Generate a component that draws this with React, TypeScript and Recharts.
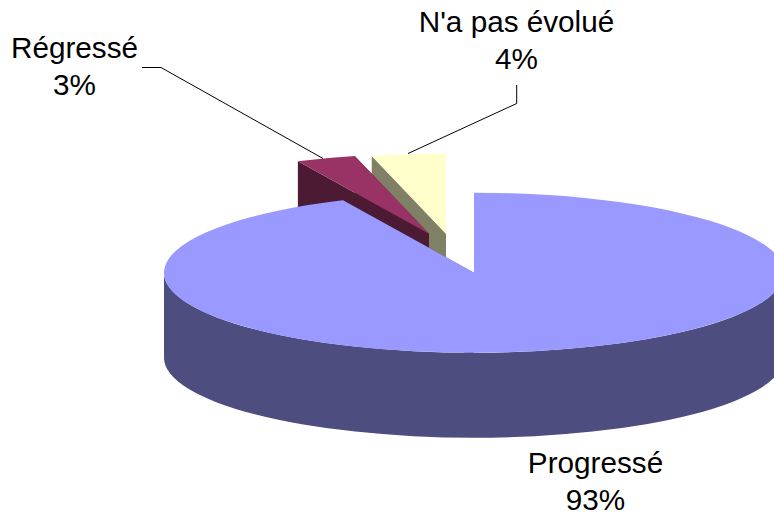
import React from "react";
import { PieChart, Pie } from "recharts";

// Data, listed back to front so that the nearest slice paints last.
const categories = ["N'a pas évolué", "Régressé", "Progressé"];
const percentages = [3.85, 3.1, 93.05];

// Styles
const topColors = ["#FFFFCC", "#993366", "#9999FF"];
const wallColors = ["#808066", "#4D1A33", "#4D4D80"];

// Layout
const CX = 474;
const CY = 272.7;
const RX = 310;
const RY = 80;
const DEPTH = 85;
const explodeX = [-28, -45, 0];
const explodeY = [-39, -39, 0];
const FONT_SIZE = 29.7;
const labelX = [516.5, 74.5, 595.5];
const labelY = [32, 58, 473];
const LINE_GAP = 36.8;
const leaders: number[][][] = [
  [[516.7, 85], [516.7, 103.5], [408, 153.5]],
  [[142, 67.5], [161, 67.5], [323, 158.5]],
  [],
];

const data = categories.map((name, i) => ({
  name,
  value: percentages[i],
  idx: i,
}));

function SliceShape(props: any) {
  const { cx, cy, outerRadius, startAngle, endAngle, payload } = props;
  const idx: number = payload?.idx ?? props.idx;
  const rx = outerRadius;
  const ry = (outerRadius * RY) / RX;
  const ax = cx + explodeX[idx];
  const ay = cy + explodeY[idx];
  const a0 = Math.min(startAngle, endAngle);
  const a1 = Math.max(startAngle, endAngle);
  const pt = (a: number, down = 0): [number, number] => [
    ax + rx * Math.cos((a * Math.PI) / 180),
    ay - ry * Math.sin((a * Math.PI) / 180) + down,
  ];
  const face = (a: number) => {
    const [x, y] = pt(a);
    return `M${ax},${ay} L${x},${y} L${x},${y + DEPTH} L${ax},${ay + DEPTH} Z`;
  };
  const [x0, y0] = pt(a0);
  const [x1, y1] = pt(a1);
  const large = a1 - a0 > 180 ? 1 : 0;
  const top = `M${ax},${ay} L${x0},${y0} A${rx},${ry} 0 ${large} 0 ${x1},${y1} Z`;

  // Outer wall: only the part of the rim facing the viewer (180° to 360°).
  const w0 = Math.max(a0, 180);
  const w1 = Math.min(a1, 360);
  let wall = "";
  if (w1 > w0) {
    const [wx0, wy0] = pt(w0);
    const [wx1, wy1] = pt(w1);
    const wl = w1 - w0 > 180 ? 1 : 0;
    wall =
      `M${wx0},${wy0} A${rx},${ry} 0 ${wl} 0 ${wx1},${wy1} ` +
      `L${wx1},${wy1 + DEPTH} A${rx},${ry} 0 ${wl} 1 ${wx0},${wy0 + DEPTH} Z`;
  }
  const wc = wallColors[idx];
  return (
    <g>
      <path d={face(a1)} fill={wc} />
      <path d={face(a0)} fill={wc} />
      {wall && <path d={wall} fill={wc} />}
      <path d={top} fill={topColors[idx]} />
    </g>
  );
}

function SliceLabel(props: any) {
  const idx: number = props.payload?.idx ?? props.idx;
  const line = leaders[idx];
  return (
    <g>
      {line.length > 0 && (
        <polyline
          points={line.map((p) => p.join(",")).join(" ")}
          fill="none"
          stroke="#000000"
          strokeWidth={1}
        />
      )}
      <text
        x={labelX[idx]}
        y={labelY[idx]}
        textAnchor="middle"
        fontFamily="'Liberation Sans', Arial, sans-serif"
        fontSize={FONT_SIZE}
        fill="#000000"
      >
        {categories[idx]}
      </text>
      <text
        x={labelX[idx]}
        y={labelY[idx] + LINE_GAP}
        textAnchor="middle"
        fontFamily="'Liberation Sans', Arial, sans-serif"
        fontSize={FONT_SIZE}
        fill="#000000"
      >
        {`${Math.round(percentages[idx])}%`}
      </text>
    </g>
  );
}

export default function App() {
  return (
    <div style={{ position: "absolute", left: 0, top: 0, width: 774, height: 517, overflow: "hidden", background: "#fff" }}>
      <PieChart width={774} height={517} margin={{ top: 0, right: 0, bottom: 0, left: 0 }}>
        <Pie
          data={data}
          dataKey="value"
          nameKey="name"
          cx={CX}
          cy={CY}
          innerRadius={0}
          outerRadius={RX}
          startAngle={90}
          endAngle={450}
          stroke="none"
          isAnimationActive={false}
          shape={SliceShape}
          label={SliceLabel}
          labelLine={false}
        />
      </PieChart>
    </div>
  );
}
